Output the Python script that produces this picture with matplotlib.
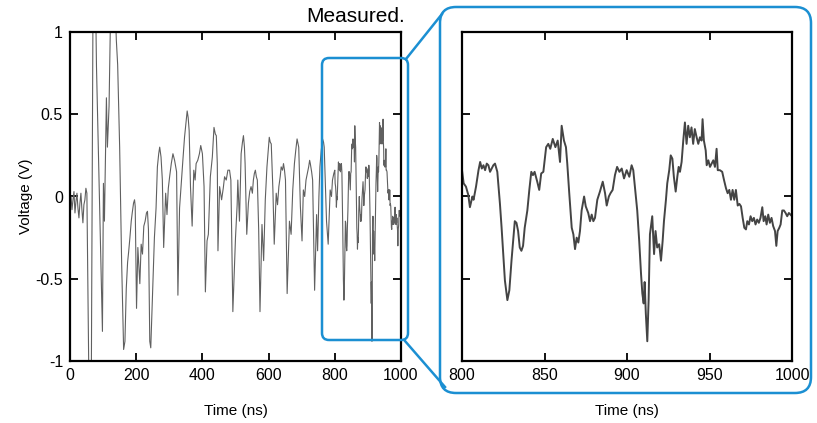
import matplotlib
matplotlib.use("Agg")
import matplotlib.pyplot as plt
from matplotlib.patches import FancyBboxPatch

plt.rcParams['font.family'] = ['Liberation Sans', 'DejaVu Sans']
plt.rcParams['axes.unicode_minus'] = False

# measured waveform, time in ns / voltage in V
time_ns = [
    0, 3, 6, 9, 12, 15, 18, 21, 24, 27, 30, 33, 36, 39, 42, 45, 48, 51,
    58, 64, 70, 76, 80, 98, 101, 104, 110, 113, 118, 124, 134, 140, 144, 150,
    156, 162, 166, 170, 174, 177, 181, 185, 188, 192, 195, 197, 201, 205, 208,
    211, 215, 219, 223, 227, 231, 234, 237, 241, 244, 250, 255, 260, 264, 268,
    271, 275, 279, 283, 289, 293, 297, 301, 306, 311, 316, 322, 326, 331, 336,
    341, 346, 350, 354, 357, 360, 364, 369, 374, 378, 381, 386, 391, 395, 400,
    405, 409, 414, 418, 421, 424, 430, 435, 439, 442, 445, 447, 452, 458, 463,
    467, 472, 477, 482, 486, 492, 500, 505, 507, 512, 517, 521, 524, 527, 529,
    534, 539, 543, 547, 551, 554, 557, 560, 563, 566, 570, 574, 580, 585, 590,
    595, 599, 602, 605, 608, 611, 613, 617, 623, 627, 631, 635, 638, 642, 645,
    648, 651, 656, 663, 668, 673, 678, 682, 686, 689, 691, 696, 701, 705, 709,
    713, 717, 721, 724, 726, 730, 733, 739, 745, 748, 752, 755, 759, 763, 766,
    768, 772, 775, 780, 786, 790, 793, 797,
    800, 801, 802.4, 803.8, 804.8, 806.3, 807, 808.5, 810, 811, 812, 813, 814,
    815, 816, 817, 818, 819, 820, 821.4, 823, 824, 825, 826, 827.5, 828.7, 830,
    831, 832, 833, 834, 835, 836, 837, 838, 839.6, 840.8, 842, 843, 844, 845.6,
    846.8, 848, 849.3, 851, 852.3, 853.5, 855, 856.6, 858, 859.4, 860.4, 861.8,
    863, 863.8, 865, 866.5, 867.5, 868.5, 869.5, 870.5, 871.5, 872.5, 874, 875,
    876.5, 877.6, 878.6, 879.6, 880.6, 882, 883.6, 885.3, 886.7, 887.7, 889,
    890, 891.3, 892.7, 894, 895.4, 896.8, 898.2, 899.8, 901.4, 902.8, 903.8,
    904.8, 906.2, 907.4, 908.5, 909.3, 910.1, 910.7, 911.4, 912.3, 913.1, 913.9,
    915.3, 916.4, 917.3, 918.3, 919.5, 920.6, 921.6, 922.4, 923.6, 924.4, 925.6,
    926.5, 927.5, 928.4, 929.5, 930.5, 931.3, 932.1, 933.1, 934.1, 935.1, 936.1,
    937.1, 938.1, 939.1, 940.1, 941.1, 942.2, 943.2, 944.2, 945.2, 945.8, 946.6,
    947.7, 948.3, 949.3, 950.3, 951.3, 952.3, 953.3, 954.3, 955, 956.3, 957.7,
    958.8, 960, 961, 962, 963, 964, 965, 966, 967.1, 968.1, 969.1, 970.1, 971.1,
    972.1, 972.9, 973.9, 974.9, 975.9, 976.9, 977.9, 978.9, 979.9, 980.9, 982,
    982.8, 983.8, 984.6, 985.6, 986.6, 987.6, 988.6, 989.7, 990.5, 991.3, 992.3,
    993.1, 994.1, 995.1, 996.1, 997.1, 998.1, 1000,
]
voltage = [
    -0.05, 0.00, -0.08, -0.02, 0.03, -0.10, -0.03, 0.02, -0.07, -0.13, -0.04,
    0.02, -0.08, -0.16, -0.05, -0.02, 0.05, 0.02,
    -1.30, -1.30, 1.40, 1.40, 0.79, -0.82, 0.08, -0.15, 0.60, 0.30, 0.55, 1.30,
    1.30, 0.95, 0.80, 0.30, -0.40, -0.93, -0.88, -0.56, -0.40, -0.34, -0.25,
    -0.15, -0.10, -0.04, -0.02, -0.06, -0.68, -0.31, -0.42, -0.53, -0.29, -0.35,
    -0.18, -0.15, -0.10, -0.09, -0.20, -0.88, -0.92, -0.56, -0.25, -0.07, 0.18,
    0.26, 0.30, 0.24, 0.10, -0.31, 0.02, -0.11, 0.05, 0.12, 0.20, 0.26, 0.22,
    0.15, -0.60, -0.07, 0.08, 0.22, 0.36, 0.44, 0.52, 0.48, 0.40, 0.06, -0.18,
    0.16, 0.10, 0.20, 0.22, 0.26, 0.31, 0.26, 0.06, -0.58, -0.27, -0.23, -0.05,
    0.12, 0.24, 0.42, 0.38, 0.37, 0.20, -0.33, 0.06, -0.02, 0.05, 0.12, 0.10,
    0.16, 0.16, 0.10, -0.70, -0.25, -0.05, 0.10, -0.15, 0.26, 0.33, 0.37, 0.30,
    0.20, -0.23, -0.04, 0.03, 0.06, 0.02, 0.10, 0.14, 0.16, 0.12, 0.10, -0.20,
    -0.70, -0.17, -0.39, -0.02, 0.18, 0.28, 0.36, 0.33, 0.32, 0.15, 0.04, -0.29,
    0.02, -0.05, 0.06, 0.12, 0.18, 0.16, 0.20, 0.16, 0.10, -0.59, -0.15, -0.23,
    0.04, 0.20, 0.28, 0.35, 0.32, 0.30, -0.06, -0.27, 0.04, 0.00, 0.10, 0.14,
    0.18, 0.22, 0.20, 0.15, 0.10, -0.57, -0.11, -0.33, 0.00, 0.18, 0.28, 0.35,
    0.33, 0.30, 0.05, -0.15, -0.29, 0.04, 0.00, 0.10, 0.14,
    0.16, 0.08, 0.06, 0.01, -0.065, 0.00, -0.02, 0.06, 0.16, 0.21, 0.17, 0.19,
    0.16, 0.20, 0.19, 0.15, 0.17, 0.19, 0.20, 0.15, -0.045, -0.19, -0.35, -0.51,
    -0.63, -0.57, -0.39, -0.27, -0.15, -0.16, -0.21, -0.31, -0.33, -0.30, -0.19,
    -0.085, 0.04, 0.15, 0.13, 0.15, 0.09, 0.04, 0.14, 0.15, 0.30, 0.32, 0.29,
    0.35, 0.30, 0.34, 0.21, 0.43, 0.34, 0.30, 0.20, 0.02, -0.19, -0.23, -0.32,
    -0.25, -0.28, -0.21, -0.085, 0.00, -0.06, -0.10, -0.15, -0.11, -0.15, -0.13,
    -0.02, 0.03, 0.09, 0.02, -0.055, 0.00, 0.02, 0.04, 0.13, 0.18, 0.15, 0.17,
    0.11, 0.16, 0.12, 0.19, 0.16, 0.06, -0.085, -0.27, -0.47, -0.59, -0.65,
    -0.52, -0.71, -0.88, -0.63, -0.23, -0.12, -0.35, -0.21, -0.31, -0.29, -0.39,
    -0.27, -0.15, -0.02, 0.08, 0.16, 0.25, 0.23, 0.12, 0.03, 0.12, 0.18, 0.15,
    0.21, 0.34, 0.45, 0.32, 0.43, 0.36, 0.42, 0.32, 0.41, 0.36, 0.32, 0.36, 0.34,
    0.47, 0.34, 0.28, 0.19, 0.22, 0.18, 0.20, 0.22, 0.18, 0.29, 0.16, 0.16, 0.15,
    0.10, 0.05, 0.02, 0.04, -0.02, 0.04, -0.02, 0.04, -0.055, -0.045, -0.06,
    -0.13, -0.19, -0.20, -0.15, -0.17, -0.12, -0.15, -0.13, -0.17, -0.14, -0.16,
    -0.13, -0.065, -0.15, -0.12, -0.17, -0.11, -0.16, -0.13, -0.18, -0.21, -0.30,
    -0.21, -0.19, -0.17, -0.085, -0.085, -0.10, -0.12, -0.10, -0.12,
]

y_ticks = [-1, -0.5, 0, 0.5, 1]
y_tick_labels = ['-1', '-0.5', '0', '0.5', '1']
full_x_ticks = [0, 200, 400, 600, 800, 1000]
zoom_x_ticks = [800, 850, 900, 950, 1000]

W, H = 817, 423
fig = plt.figure(figsize=(W / 100, H / 100), dpi=100)
blue = '#1b8fd2'


def px_axes(x0, y0, x1, y1):
    # pixel box (top-left origin) -> figure fraction
    return [x0 / W, 1 - y1 / H, (x1 - x0) / W, (y1 - y0) / H]


def style(ax, xticks, labels_y):
    ax.set_ylim(-1, 1)
    ax.set_yticks(y_ticks)
    ax.set_yticklabels(y_tick_labels if labels_y else [])
    ax.set_xticks(xticks)
    ax.set_xticklabels([str(t) for t in xticks])
    ax.tick_params(direction='in', length=6, width=1.3, top=True, right=True,
                   labelsize=11.5, pad=5, colors='black')
    for s in ax.spines.values():
        s.set_linewidth(1.6)
    ax.set_xlabel('Time (ns)', fontsize=11, labelpad=15)


ax1 = fig.add_axes(px_axes(70, 32, 401, 361))
ax1.plot(time_ns, voltage, color='#606060', lw=0.8)
ax1.set_xlim(0, 1000)
style(ax1, full_x_ticks, True)
ax1.set_ylabel('Voltage (V)', fontsize=11, labelpad=2)

ax2 = fig.add_axes(px_axes(462, 32, 792, 361))
ax2.plot(time_ns, voltage, color='#444444', lw=1.4)
ax2.set_xlim(800, 1000)
style(ax2, zoom_x_ticks, False)

# overlay in pixel coordinates for the zoom callout
ov = fig.add_axes([0, 0, 1, 1], zorder=5)
ov.set_xlim(0, W)
ov.set_ylim(H, 0)
ov.axis('off')
ov.patch.set_alpha(0)
ov.add_patch(FancyBboxPatch((322, 58), 86, 282, boxstyle='round,pad=0,rounding_size=7',
                            fill=False, ec=blue, lw=1.8))
ov.add_patch(FancyBboxPatch((440, 7), 371, 386, boxstyle='round,pad=0,rounding_size=16',
                            fill=False, ec=blue, lw=1.8))
ov.plot([406, 442], [59, 14], color=blue, lw=1.8)
ov.plot([405, 445], [341, 387], color=blue, lw=1.8)

fig.text(356 / W, 1 - 16 / H, 'Measured.', fontsize=15, ha='center', va='center')

fig.savefig('out.png', dpi=100)
